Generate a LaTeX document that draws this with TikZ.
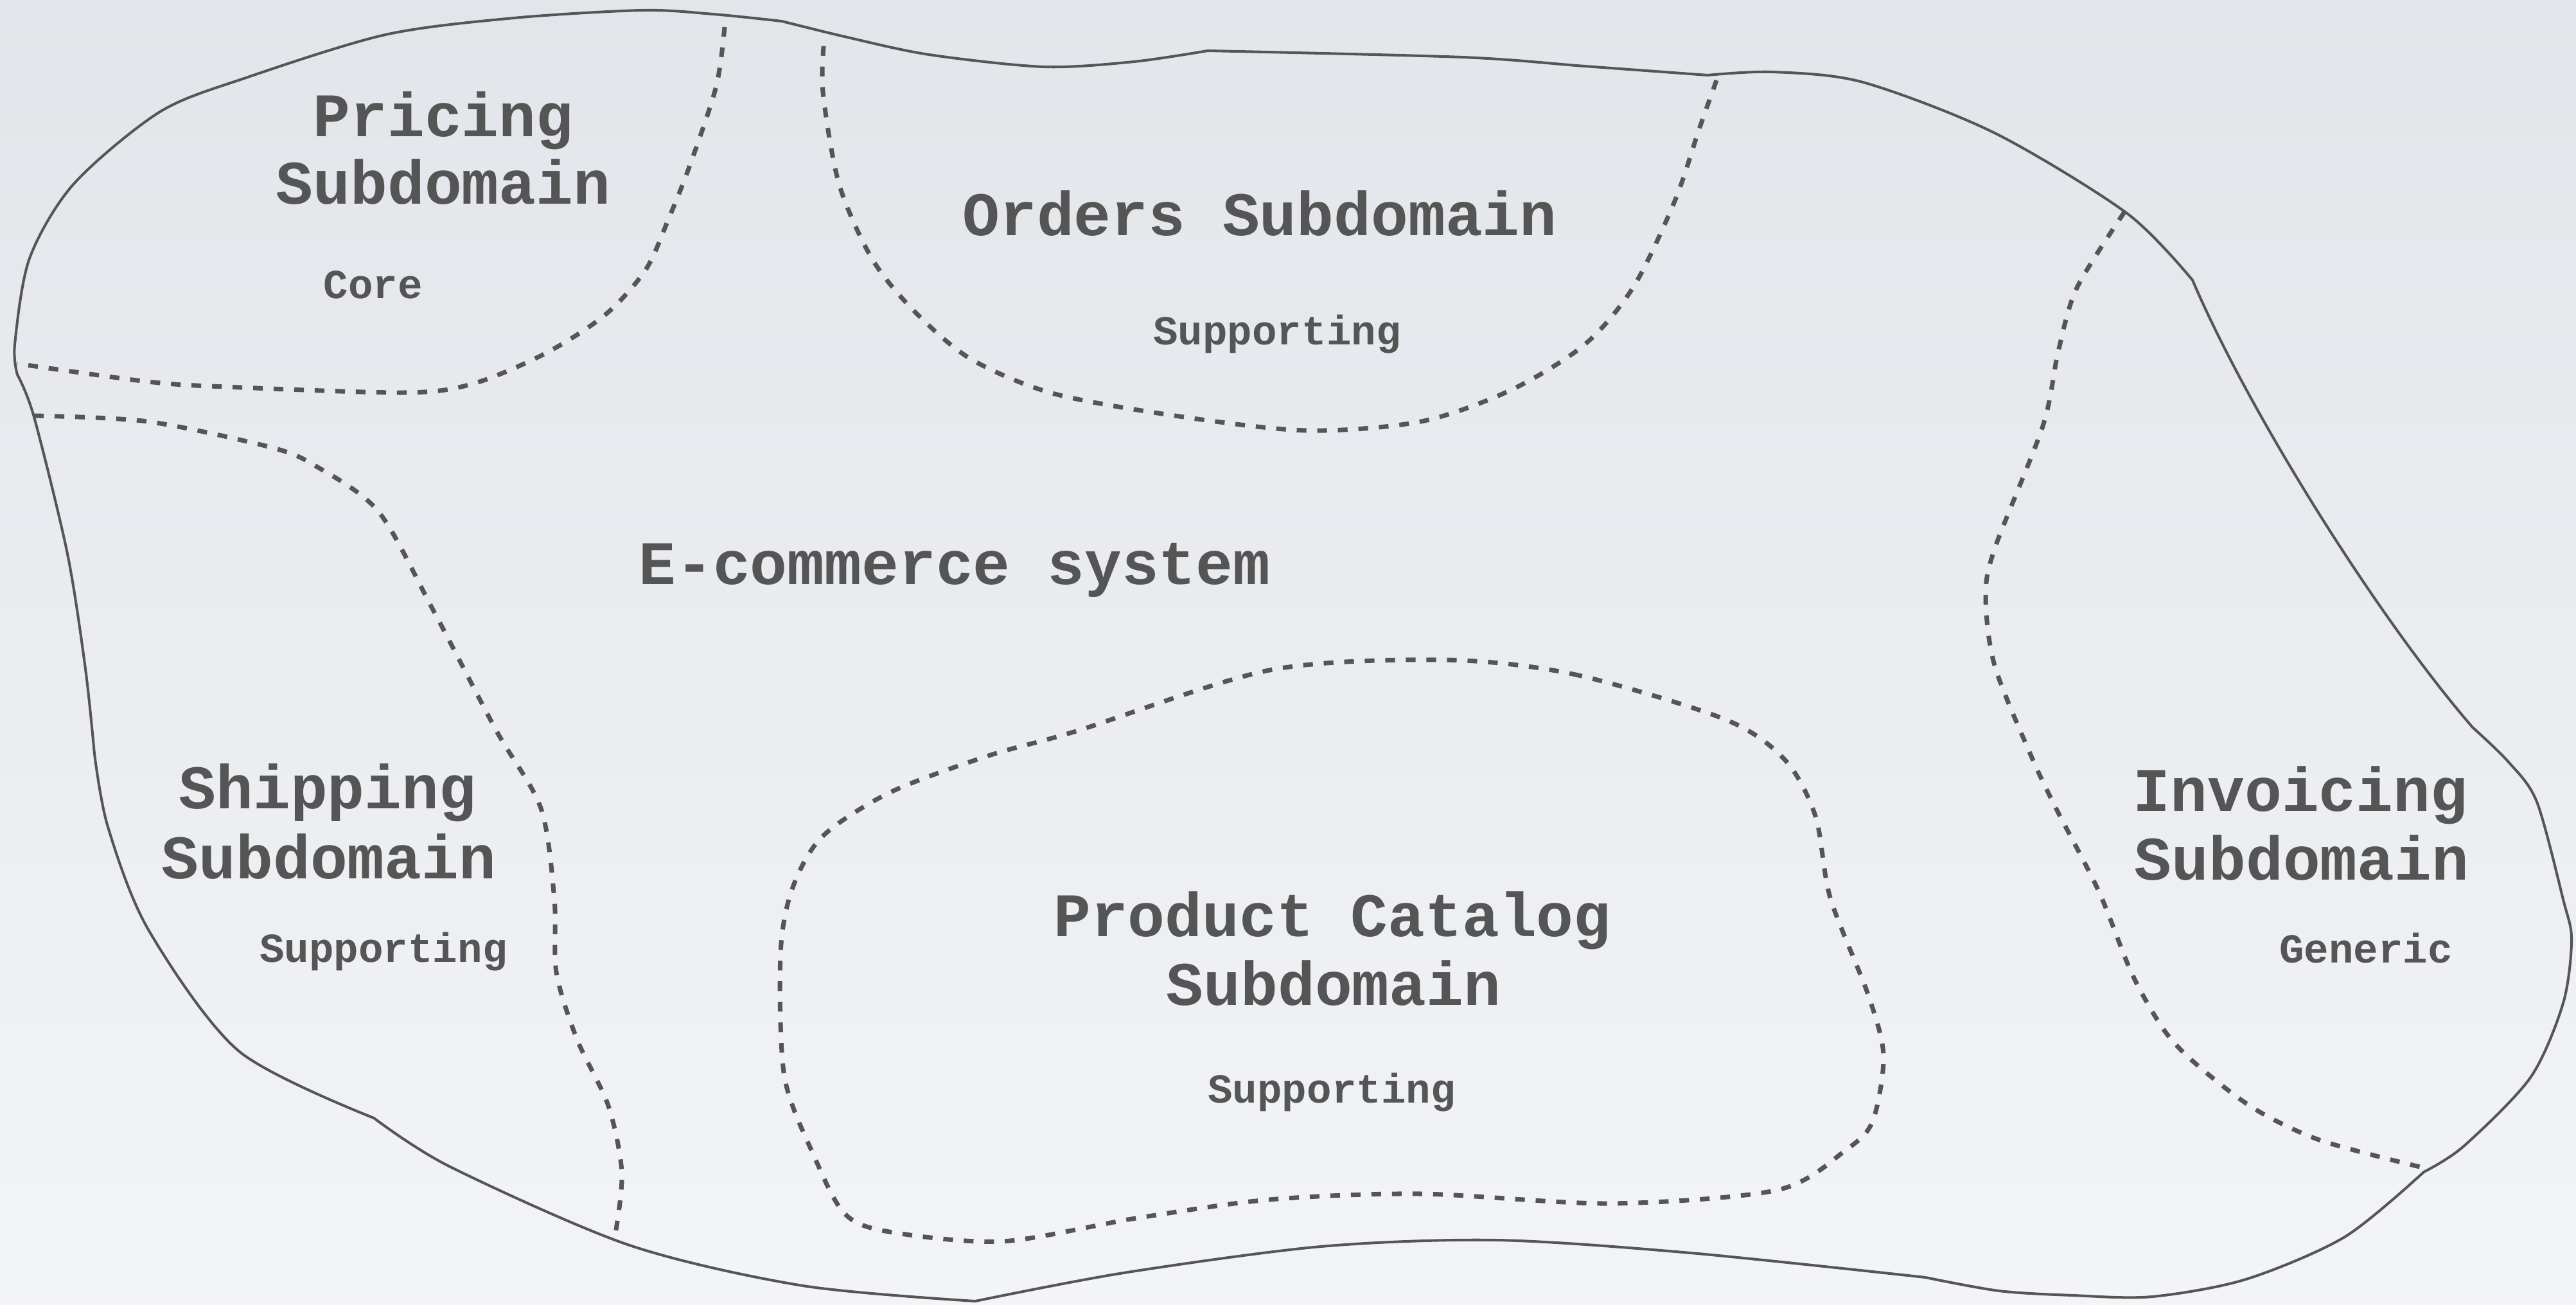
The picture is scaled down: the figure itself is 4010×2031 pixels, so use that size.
\documentclass[tikz,border=0pt]{standalone}
\usepackage{fontspec}
\setmainfont{Liberation Mono}
\definecolor{ink}{HTML}{555555}
\definecolor{bgtop}{HTML}{E2E5E9}
\definecolor{bgbot}{HTML}{F2F4F7}
\begin{document}
\begin{tikzpicture}[x=0.01cm,y=-0.01cm,
  outline/.style={draw=ink,line width=1.15pt,line join=round},
  border/.style={draw=ink,line width=2pt,dash pattern=on 4.3pt off 4.8pt},
  title/.style={text=ink,font=\fontsize{27.4}{30}\selectfont\bfseries,inner sep=0pt,anchor=base},
  kind/.style={text=ink,font=\fontsize{18.25}{22}\selectfont\bfseries,inner sep=0pt,anchor=base}]

% background
\shade[top color=bgtop,bottom color=bgbot] (0,0) rectangle (4010,2031);
\useasboundingbox (0,0) rectangle (4010,2031);

% outer boundary of the system
\draw[outline]
  plot[smooth] coordinates {(27,583) (23,536) (46,402) (115,286) (249,174) (383,121) (600,54) (800,28) (1000,16) (1110,22) (1217,33)}
  -- plot[smooth] coordinates {(1217,33) (1319,58) (1446,85) (1625,104) (1765,96) (1880,79)}
  -- plot[smooth] coordinates {(1880,79) (2276,89) (2467,103) (2658,117)}
  -- plot[smooth] coordinates {(2658,117) (2760,112) (2900,128) (3105,207) (3311,332) (3413,436)}
  .. controls (3500,640) and (3700,960) .. (3849,1132)
  -- plot[smooth] coordinates {(3849,1132) (3905,1186) (3949,1248) (3990,1400) (4003,1462) (3990,1561) (3939,1677) (3835,1784) (3773,1824)}
  -- plot[smooth] coordinates {(3773,1824) (3650,1925) (3496,1991) (3350,2018) (3227,2016) (3112,2009) (2997,1988)}
  -- plot[smooth] coordinates {(2997,1988) (2632,1950) (2330,1930) (2056,1940) (1749,1981) (1518,2025)}
  -- plot[smooth] coordinates {(1518,2025) (1250,2001) (980,1938) (701,1816) (582,1740)}
  -- plot[smooth] coordinates {(582,1740) (372,1636) (231,1447) (168,1287) (147,1173)}
  -- plot[smooth] coordinates {(147,1173) (133,1041) (105,862) (53,649) (27,583)}
  -- cycle;

% subdomain borders
\draw[border] plot[smooth] coordinates {(1128,42) (1115,134) (1074,257) (1041,340) (1005,420) (942,490) (849,550) (737,597) (631,611) (351,602) (230,594) (27,566)};
\draw[border] plot[smooth] coordinates {(2672,125) (2645,201) (2607,313) (2543,446) (2467,536) (2352,607) (2212,656) (2033,670) (1829,647) (1638,612) (1510,558) (1421,482) (1357,402) (1306,286) (1281,143) (1283,62)};
\draw[border] plot[smooth] coordinates {(53,647) (230,656) (421,696) (491,725) (589,796) (673,947) (772,1136) (842,1258) (863,1400) (866,1513) (898,1617) (947,1721) (968,1825) (958,1920)};
\draw[border] plot[smooth] coordinates {(3307,330) (3233,448) (3204,547) (3180,663) (3105,854) (3091,929) (3105,1036) (3162,1177) (3200,1257) (3267,1387) (3319,1516) (3370,1605) (3422,1659) (3510,1726) (3613,1775) (3771,1817)};
\draw[border] plot[smooth cycle] coordinates {(2247,1027) (2448,1049) (2684,1119) (2778,1182) (2826,1270) (2849,1397) (2908,1548) (2932,1643) (2915,1745) (2873,1790) (2767,1852) (2507,1873) (2212,1858) (1976,1867) (1768,1896) (1560,1932) (1384,1917) (1315,1889) (1268,1801) (1221,1675) (1215,1485) (1233,1384) (1280,1302) (1386,1233) (1539,1176) (1675,1138) (1976,1043)};

% labels
\node[title] (pricingA) at (690,213) {Pricing};
\node[title] (pricingB) at (690,318) {Subdomain};
\node[kind]  (pricingK) at (581,465) {Core};

\node[title] (orders)  at (1961,367) {Orders Subdomain};
\node[kind]  (ordersK) at (1988,537) {Supporting};

\node[title] (system) at (1486,909) {E-commerce system};

\node[title] (shippingA) at (510,1258) {Shipping};
\node[title] (shippingB) at (512,1367) {Subdomain};
\node[kind]  (shippingK) at (597,1497) {Supporting};

\node[title] (productA) at (2074,1457) {Product Catalog};
\node[title] (productB) at (2076,1564) {Subdomain};
\node[kind]  (productK) at (2073,1716) {Supporting};

\node[title] (invoicingA) at (3581,1262) {Invoicing};
\node[title] (invoicingB) at (3583,1369) {Subdomain};
\node[kind]  (invoicingK) at (3683,1498) {Generic};
\end{tikzpicture}
\end{document}
